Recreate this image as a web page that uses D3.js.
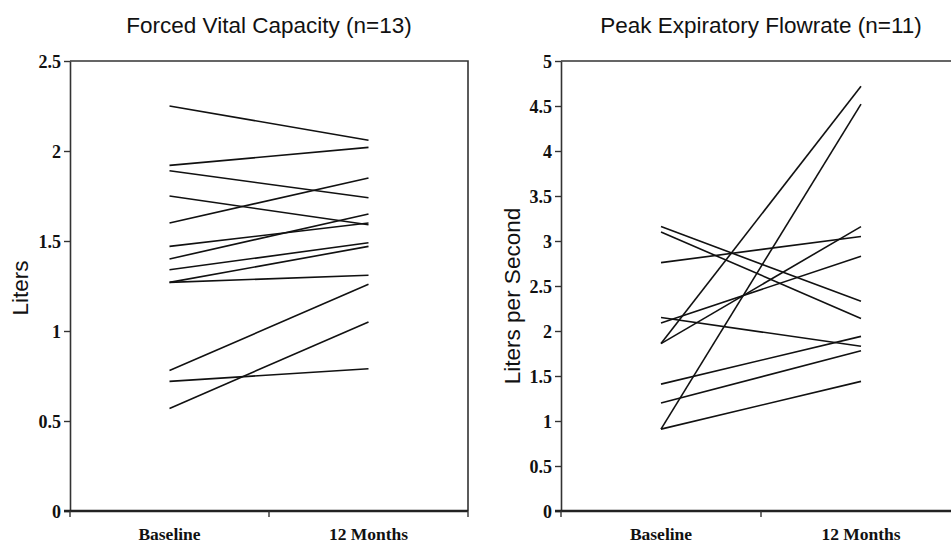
<!DOCTYPE html>
<html>
<head>
    <script src="https://d3js.org/d3.v7.min.js"></script>
    <style>
        * { margin: 0; padding: 0; }
        body { background: #fff; }
        .tick text { font-family: "Liberation Serif", "Times New Roman", serif; font-weight: bold; font-size: 18px; fill: #111; }
        .title { font-family: "Liberation Sans", Arial, sans-serif; font-size: 22.5px; fill: #111; }
    </style>
</head>
<body>
<div id="chart"></div>
<script>
    // categories on the x axis
    const categories = ["Baseline", "12 Months"];

    // Forced Vital Capacity, liters (n=13)
    const fvcBaseline = [2.25, 1.92, 1.89, 1.75, 1.60, 1.47, 1.40, 1.34, 1.27, 1.27, 0.78, 0.72, 0.57];
    const fvcMonth12  = [2.06, 2.02, 1.74, 1.59, 1.85, 1.60, 1.65, 1.49, 1.47, 1.31, 1.26, 0.79, 1.05];
    const fvcTicks = [0, 0.5, 1, 1.5, 2, 2.5];

    // Peak Expiratory Flowrate, liters per second (n=11)
    const pefBaseline = [1.86, 0.91, 3.16, 3.10, 1.86, 2.76, 2.09, 2.15, 1.41, 1.20, 0.91];
    const pefMonth12  = [4.72, 4.52, 2.33, 2.14, 3.16, 3.05, 2.83, 1.83, 1.94, 1.78, 1.44];
    const pefTicks = [0, 0.5, 1, 1.5, 2, 2.5, 3, 3.5, 4, 4.5, 5];

    const width = 951, height = 546;
    const plotTop = 61, plotBottom = 511;

    const svg = d3.select("#chart").append("svg")
        .attr("width", width)
        .attr("height", height);

    function drawPanel(opts) {
        const x = d3.scaleBand().domain(categories).range([opts.left, opts.right]);
        const y = d3.scaleLinear().domain([0, opts.ticks[opts.ticks.length - 1]]).range([plotBottom, plotTop]);
        const g = svg.append("g");

        // frame: top and right edges
        g.append("path")
            .attr("d", `M${opts.left},${plotTop}H${opts.right}V${plotBottom}`)
            .attr("fill", "none")
            .attr("stroke", "#333")
            .attr("stroke-width", 1.6);

        // y axis
        const yAxis = g.append("g")
            .attr("transform", `translate(${opts.left},0)`)
            .call(d3.axisLeft(y).tickValues(opts.ticks).tickFormat(d => String(d))
                .tickSize(6).tickSizeOuter(0).tickPadding(3));
        yAxis.select(".domain").attr("stroke", "#333").attr("stroke-width", 1.6);
        yAxis.selectAll(".tick line").attr("stroke", "#333").attr("stroke-width", 1.4);
        yAxis.selectAll(".tick text").attr("dy", "0.36em");

        // x axis: thick baseline, ticks at category boundaries
        const edges = [opts.left, opts.left + x.bandwidth(), opts.right];
        g.append("line")
            .attr("x1", opts.left - 6).attr("x2", opts.right)
            .attr("y1", plotBottom).attr("y2", plotBottom)
            .attr("stroke", "#222").attr("stroke-width", 2.6);
        g.selectAll(".xtick").data(edges).join("line")
            .attr("x1", d => d).attr("x2", d => d)
            .attr("y1", plotBottom).attr("y2", plotBottom + 6)
            .attr("stroke", "#333").attr("stroke-width", 1.4);
        g.selectAll(".xlabel").data(categories).join("text")
            .attr("x", d => x(d) + x.bandwidth() / 2)
            .attr("y", 540)
            .attr("text-anchor", "middle")
            .style("font-family", "'Liberation Serif', 'Times New Roman', serif")
            .style("font-weight", "bold")
            .style("font-size", "17.5px")
            .style("fill", "#111")
            .text(d => d);

        // subject lines
        const pairs = opts.before.map((v, i) => [v, opts.after[i]]);
        g.selectAll(".subject").data(pairs).join("line")
            .attr("x1", x(categories[0]) + x.bandwidth() / 2)
            .attr("x2", x(categories[1]) + x.bandwidth() / 2)
            .attr("y1", d => y(d[0]))
            .attr("y2", d => y(d[1]))
            .attr("stroke", "#111")
            .attr("stroke-width", 1.6);

        // title
        svg.append("text")
            .attr("class", "title")
            .attr("x", (opts.left + opts.right) / 2)
            .attr("y", 33)
            .attr("text-anchor", "middle")
            .text(opts.title);

        // y axis label
        svg.append("text")
            .attr("class", "title")
            .attr("transform", `translate(${opts.labelX},${opts.labelY}) rotate(-90)`)
            .attr("text-anchor", "middle")
            .text(opts.yLabel);
    }

    drawPanel({
        left: 70, right: 468, ticks: fvcTicks,
        before: fvcBaseline, after: fvcMonth12,
        title: "Forced Vital Capacity (n=13)",
        yLabel: "Liters", labelX: 28, labelY: 288
    });

    drawPanel({
        left: 561, right: 961, ticks: pefTicks,
        before: pefBaseline, after: pefMonth12,
        title: "Peak Expiratory Flowrate (n=11)",
        yLabel: "Liters per Second", labelX: 520, labelY: 296
    });
</script>
</body>
</html>
